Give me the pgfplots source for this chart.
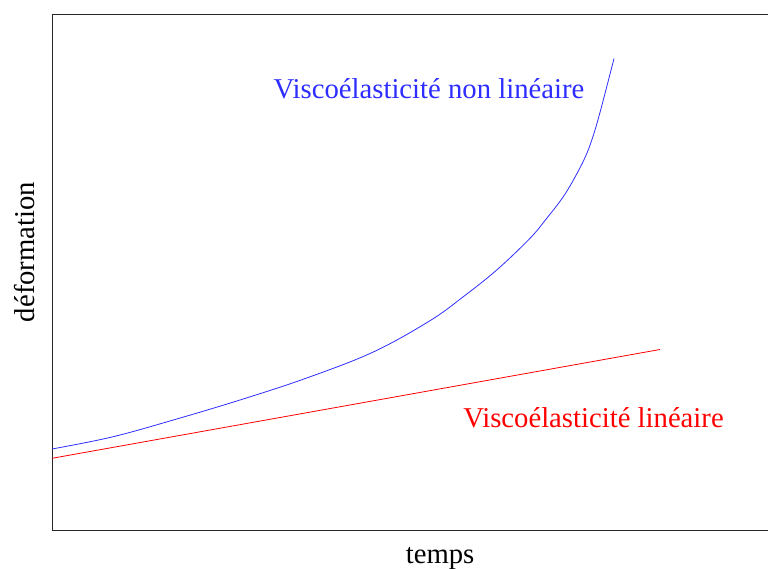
\documentclass[border=0pt]{standalone}
\usepackage{fontspec}
\setmainfont{Liberation Serif}
\usepackage{pgfplots}
\pgfplotsset{compat=1.18}
\definecolor{cblue}{RGB}{45,45,255}
\definecolor{cred}{RGB}{255,0,0}
\begin{document}
\begin{tikzpicture}[font=\fontsize{28.7bp}{34bp}\selectfont]
\begin{axis}[
  scale only axis,
  width=716bp, height=516bp,
  xmin=0, xmax=716, ymin=0, ymax=516,
  separate axis lines,
  axis x line*=box,
  axis y line*=left,
  axis line style={line width=0.9bp, black!85},
  xtick=\empty, ytick=\empty,
  xlabel={temps},
  ylabel={déformation},
  xlabel style={at={(rel axis cs:0.542,-0.064)}, anchor=base},
  ylabel style={at={(rel axis cs:-0.0245,0.539)}, anchor=base, rotate=0},
  clip=false,
]
\addplot[cred, line width=0.8bp] coordinates {(0,71.7) (608,180.5)};
\addplot[cblue, line width=0.8bp, smooth, tension=0.6] coordinates {
 (0,81) (60,93) (121.3,110) (188,130) (254.7,152) (321.3,178)
 (378,209.3) (411.3,233.3) (444.7,260) (478,291.7) (494.7,311.7)
 (511.3,333.3) (524.7,356) (535,377) (543,400) (551.3,430) (562,471.5)};
\node[cblue, anchor=base] at (axis cs:377,431) {Viscoélasticité non linéaire};
\node[cred, anchor=base] at (axis cs:541.5,102) {Viscoélasticité linéaire};
\coordinate (bl) at (rel axis cs:0,0);
\coordinate (tr) at (rel axis cs:1,1);
\end{axis}
\pgfresetboundingbox
\useasboundingbox ([xshift=-52bp,yshift=-39bp]bl) rectangle ([yshift=14bp]tr);
\end{tikzpicture}
\end{document}
